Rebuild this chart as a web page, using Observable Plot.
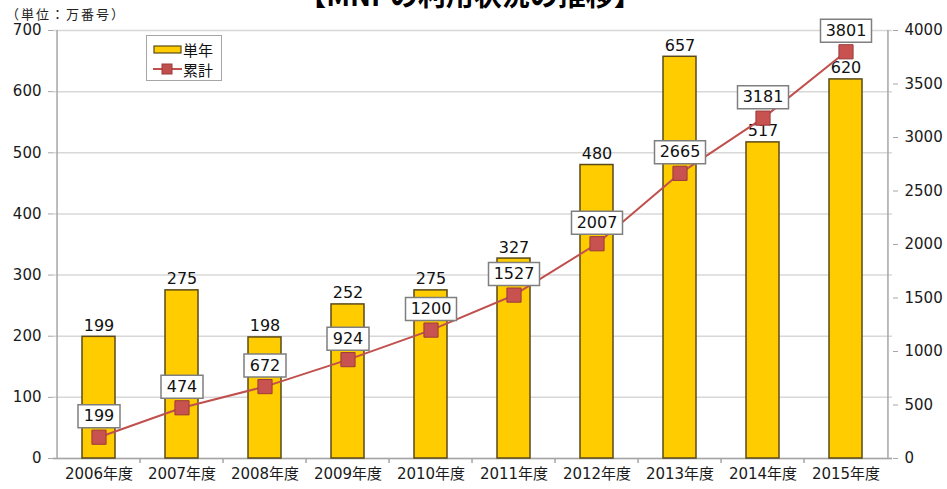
<!DOCTYPE html>
<html>
<head>
<meta charset="utf-8">
<script src="https://cdn.jsdelivr.net/npm/d3@7"></script>
<script src="https://cdn.jsdelivr.net/npm/@observablehq/plot@0.6"></script>
<style>
  html, body { margin: 0; padding: 0; background: #fff; overflow: hidden; }
  #wrap { position: relative; width: 947px; height: 489px; overflow: hidden;
          font-family: "DejaVu Sans", "Noto Sans CJK JP", sans-serif; }
  #title { position: absolute; top: -21px; left: 0; width: 940px; text-align: center;
           font-size: 28px; line-height: 30px; font-weight: bold; color: #000;
           font-family: "Noto Sans CJK JP", sans-serif; }
  #unit { position: absolute; top: 4px; left: 6px; font-size: 13px; letter-spacing: 2px; color: #222;
          font-family: "Noto Sans CJK JP", sans-serif; }
  #legend { position: absolute; left: 146px; top: 35px; width: 76px; height: 46px;
            border: 1px solid #a6a6a6; background: #fff; box-sizing: border-box; }
  .li { position: absolute; left: 6px; height: 20px; display: flex; align-items: center;
        font-size: 15px; color: #111; font-family: "Noto Sans CJK JP", sans-serif; }
  #chart { position: absolute; left: 0; top: 0; }
</style>
</head>
<body>
<div id="wrap">
  <div id="chart"></div>
  <div id="title">【MNPの利用状況の推移】</div>
  <div id="unit">（単位：万番号）</div>
  <div id="legend">
    <div class="li" style="top:3px"><svg width="30" height="12"><rect x="1" y="3" width="27" height="7" fill="#FFCC00" stroke="#5a4a1a" stroke-width="1.2"/></svg><span>単年</span></div>
    <div class="li" style="top:23px"><svg width="30" height="12"><line x1="0" y1="6" x2="29" y2="6" stroke="#C0504D" stroke-width="2"/><rect x="9" y="1" width="10" height="10" fill="#C0504D" stroke="#9b3b39"/></svg><span>累計</span></div>
  </div>
</div>
<script>
const years = ["2006年度","2007年度","2008年度","2009年度","2010年度","2011年度","2012年度","2013年度","2014年度","2015年度"];
const annual = [199, 275, 198, 252, 275, 327, 480, 657, 517, 620];
const cumulative = [199, 474, 672, 924, 1200, 1527, 2007, 2665, 3181, 3801];
const leftTicks = [0, 100, 200, 300, 400, 500, 600, 700];
const rightTicks = [0, 500, 1000, 1500, 2000, 2500, 3000, 3500, 4000];

const leftMax = 700, rightMax = 4000;
const k = leftMax / rightMax; // map right axis onto left scale
const data = years.map((year, i) => ({year, annual: annual[i], cum: cumulative[i], cumY: cumulative[i] * k}));

const W = 947, H = 489, mL = 53, mR = 55, mT = 30, mB = 31;
const step = (W - mL - mR) / years.length;

const boxSymbol = {
  draw(ctx, size) {
    const w = Math.sqrt(size / Math.PI);
    ctx.moveTo(-w, -11.5); ctx.lineTo(w, -11.5); ctx.lineTo(w, 11.5); ctx.lineTo(-w, 11.5); ctx.closePath();
  }
};

const chart = Plot.plot({
  width: W, height: H,
  marginLeft: mL, marginRight: mR, marginTop: mT, marginBottom: mB,
  style: {fontFamily: '"DejaVu Sans", "Noto Sans CJK JP", sans-serif', fontSize: "15px", color: "#1a1a1a", background: "transparent", overflow: "visible"},
  x: {domain: years, paddingInner: 0.6, paddingOuter: 0.3, axis: null, label: null},
  y: {domain: [0, leftMax], axis: null, label: null},
  marks: [
    Plot.gridY(leftTicks, {stroke: "#d8d8d8", strokeOpacity: 1, strokeWidth: 1.5}),
    Plot.ruleY([0], {stroke: "#a6a6a6", strokeWidth: 1.5}),
    Plot.ruleX([years[0]], {dx: -step / 2, stroke: "#a6a6a6", strokeWidth: 1.5}),
    Plot.ruleX([years[years.length - 1]], {dx: step / 2, stroke: "#a6a6a6", strokeWidth: 1.5}),
    Plot.ruleX(years.slice(1), {x: d => d, dx: -step / 2, y1: 0, y2: -8, stroke: "#a6a6a6", strokeWidth: 1.5}),
    Plot.axisY(leftTicks, {anchor: "left", label: null, tickSize: 5, tickPadding: 7, stroke: "#a6a6a6", fontSize: 15}),
    Plot.axisY(rightTicks.map(v => v * k), {anchor: "right", label: null, tickSize: 5, tickPadding: 7, stroke: "#a6a6a6", fontSize: 15, tickFormat: (d, i) => String(rightTicks[i])}),
    Plot.axisX({anchor: "bottom", label: null, tickSize: 0, tickPadding: 10, fontSize: 15}),
    Plot.barY(data, {x: "year", y: "annual", fill: "#FFCC00", stroke: "#5a4a1a", strokeWidth: 1.5}),
    Plot.text(data, {x: "year", y: "annual", text: d => String(d.annual), lineAnchor: "bottom", dy: -6, fontSize: 16, fill: "#111"}),
    Plot.line(data, {x: "year", y: "cumY", stroke: "#C0504D", strokeWidth: 2}),
    Plot.dot(data, {x: "year", y: "cumY", symbol: "square", r: 8, fill: "#C8524F", stroke: "#9b3b39", strokeWidth: 1}),
    Plot.dot(data, {filter: d => d.cum < 1000, x: "year", y: "cumY", dy: -21, symbol: boxSymbol, r: 21, fill: "#fff", stroke: "#7f7f7f", strokeWidth: 1.5}),
    Plot.dot(data, {filter: d => d.cum >= 1000, x: "year", y: "cumY", dy: -21, symbol: boxSymbol, r: 25.5, fill: "#fff", stroke: "#7f7f7f", strokeWidth: 1.5}),
    Plot.text(data, {x: "year", y: "cumY", dy: -21, text: d => String(d.cum), fontSize: 16, fill: "#111"})
  ]
});
document.getElementById("chart").appendChild(chart);
</script>
</body>
</html>
